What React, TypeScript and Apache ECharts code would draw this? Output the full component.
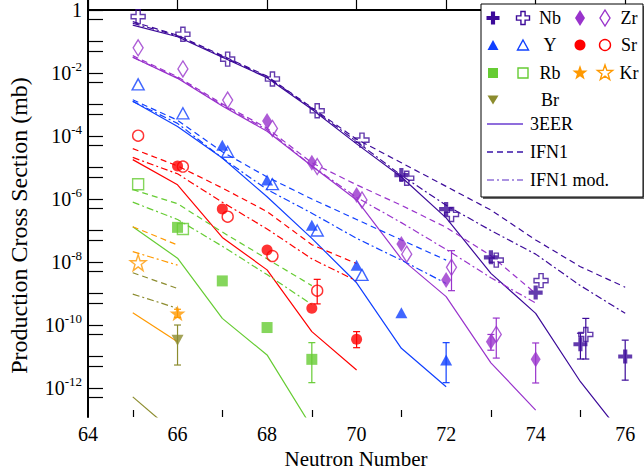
import React, { useEffect, useRef } from "react";
import * as echarts from "echarts";

// ---------- axes ----------
const X_MIN = 64;
const X_MAX = 76.42;
const Y_MIN = -12.92; // log10 of cross section (mb)
const Y_MAX = 0.317;
const xLabelTicks = [64, 66, 68, 70, 72, 74, 76];
const xMinorTicks = [65, 67, 69, 71, 73, 75];
const yLabelExponents = [0, -2, -4, -6, -8, -10, -12];
const yDecades = [0, -1, -2, -3, -4, -5, -6, -7, -8, -9, -10, -11, -12];

// ---------- colours ----------
const C_NB = "#3c0a99";
const C_ZR = "#9933cc";
const C_Y = "#1040ff";
const C_SR = "#ff0000";
const C_RB = "#66cc33";
const C_KR = "#ff9900";
const C_BR = "#8c8c2e";

// ---------- theory curves (log10 mb), N starting at 65 ----------
const nb3EER = [-0.48, -0.85, -1.5, -2.15, -3.15, -4.25, -5.3, -6.6, -8.36, -9.63, -11.8, -13.6];
const nbIFN1 = [-0.37, -0.8, -1.45, -2.1, -3.1, -4.1, -4.85, -5.6, -6.35, -7.3, -8.15, -8.8];
const nbIFN1mod = [-0.42, -0.82, -1.48, -2.12, -3.12, -4.18, -5.25, -6.2, -7.0, -7.75, -8.75, -9.63];

const zr3EER = [-1.5, -2.17, -3.05, -3.85, -4.95, -6.03, -7.9, -9.1, -11.2, -12.7];
const zrIFN1 = [-1.45, -2.12, -2.98, -3.75, -4.85, -5.55, -6.2, -6.9, -7.8, -9.0];
const zrIFN1mod = [-1.5, -2.15, -3.02, -3.8, -4.95, -5.95, -6.75, -7.6, -8.5, -9.3];

const y3EER = [-2.9, -3.7, -4.7, -5.93, -7.25, -8.66, -10.74, -11.96];
const yIFN1 = [-2.85, -3.5, -4.5, -5.3, -6.0, -6.65, -7.3, -7.94];
const yIFN1mod = [-2.9, -3.6, -4.7, -5.7, -6.45, -7.25, -7.94, -8.68];

const sr3EER = [-4.75, -5.55, -7.22, -8.25, -10.21, -11.43];
const srIFN1 = [-4.4, -4.95, -5.65, -6.4, -7.45, -8.05];
const srIFN1mod = [-4.68, -5.2, -6.1, -6.95, -7.9, -8.6];

const rb3EER = [-6.88, -7.88, -9.79, -10.95, -13.25];
const rbIFN1 = [-5.7, -6.15, -7.05, -7.9, -8.75];
const rbIFN1mod = [-6.1, -6.65, -7.5, -8.4, -9.35];

const kr3EER = [-9.61, -10.53];
const krIFN1 = [-6.88, -7.46];
const krIFN1mod = [-7.67, -8.1];

const br3EER = [-12.28, -13.5];
const brIFN1 = [-8.34, -8.84];
const brIFN1mod = [-9.02, -9.47];

// ---------- experimental points [N, log10 mb] ----------
const nbFilled = [[71, -5.24], [72, -6.32], [73, -7.85], [74, -8.97], [75, -10.61], [76, -11.0]];
const nbFilledErr = [[75, -10.26, -11.08], [76, -10.48, -11.75]];
const nbOpen = [[65, -0.21], [66, -0.77], [67, -1.56], [68, -2.19], [69, -3.2], [70, -4.13], [71, -5.34], [72, -6.49], [73, -7.94], [74, -8.59], [75, -10.3]];
const nbOpenErr = [[75, -9.79, -11.08]];

const zrFilled = [[68, -3.52], [69, -4.85], [70, -5.87], [71, -7.43], [72, -8.57], [73, -10.53], [74, -11.09]];
const zrFilledErr = [[73, -10.3, -10.8], [74, -10.57, -11.84]];
const zrOpen = [[65, -1.2], [66, -1.87], [67, -2.86], [68, -3.76], [69, -4.97], [70, -6.03], [71, -7.75], [72, -8.17], [73, -10.3]];
const zrOpenErr = [[72, -7.64, -8.91], [73, -9.78, -11.05]];

const yFilled = [[67, -4.29], [68, -5.4], [69, -6.83], [70, -8.1], [71, -9.61], [72, -11.11]];
const yFilledErr = [[72, -10.56, -11.83]];
const yOpen = [[65, -2.36], [66, -3.28], [67, -4.5], [68, -5.53], [69, -7.0], [70, -8.41]];

const srFilled = [[66, -4.95], [67, -6.32], [68, -7.62], [69, -9.47], [70, -10.45]];
const srFilledErr = [[70, -10.21, -10.72]];
const srOpen = [[65, -3.99], [66, -4.97], [67, -6.56], [68, -7.81], [69, -8.91]];
const srOpenErr = [[69, -8.55, -9.33]];

const rbFilled = [[66, -6.9], [67, -8.6], [68, -10.08], [69, -11.09]];
const rbFilledErr = [[69, -10.56, -11.83]];
const rbOpen = [[65, -5.53], [66, -6.95]];

const krFilled = [[66, -9.63]];
const krFilledErr = [[66, -9.5, -9.76]];
const krOpen = [[65, -8.02]];

const brFilled = [[66, -10.48]];
const brFilledErr = [[66, -10.0, -11.27]];

const OPEN_DX = 0.12;
const FONT = '"Liberation Serif", "Times New Roman", serif';
const DASH = [6, 4];
const DASHDOT = [7, 3, 2, 3];

const CROSS = "path://M7,0L13,0L13,7L20,7L20,13L13,13L13,20L7,20L7,13L0,13L0,7L7,7Z";
function starPoints(cx: number, cy: number, R: number, r: number) {
  const pts: number[][] = [];
  for (let i = 0; i < 10; i++) {
    const a = -Math.PI / 2 + (i * Math.PI) / 5;
    const rad = i % 2 === 0 ? R : r;
    pts.push([cx + rad * Math.cos(a), cy + rad * Math.sin(a)]);
  }
  return pts;
}
const STAR =
  "path://" +
  starPoints(10, 10, 10, 3.9)
    .map((p, i) => (i === 0 ? "M" : "L") + p[0].toFixed(2) + "," + p[1].toFixed(2))
    .join("") +
  "Z";

function lineS(name: string, color: string, vals: number[], dash: any) {
  return {
    type: "line",
    name,
    data: vals.map((v, i) => [65 + i, v]),
    symbol: "none",
    lineStyle: { color, width: 1.2, type: dash },
    itemStyle: { color },
    z: 2,
    silent: true,
    clip: true,
  };
}
function scatterS(name: string, pts: number[][], symbol: string, size: any, color: string, open: boolean, rotate = 0) {
  return {
    type: "scatter",
    name,
    data: pts.map((p) => [p[0] + (open ? OPEN_DX : 0), p[1]]),
    symbol,
    symbolSize: size,
    symbolRotate: rotate,
    itemStyle: open
      ? { color: "rgba(255,255,255,0)", borderColor: color, borderWidth: 1.4 }
      : { color },
    z: 4,
    silent: true,
  };
}
function errS(name: string, bars: number[][], color: string, open: boolean) {
  return {
    type: "custom",
    name,
    data: bars.map((b) => [b[0] + (open ? OPEN_DX : 0), b[1], b[2]]),
    encode: { x: 0, y: [1, 2] },
    z: 3,
    silent: true,
    renderItem: (params: any, api: any) => {
      const x = api.value(0);
      const p1 = api.coord([x, api.value(1)]);
      const p2 = api.coord([x, api.value(2)]);
      const w = 3.5;
      const st = { stroke: color, lineWidth: 1.2 };
      return {
        type: "group",
        children: [
          { type: "line", shape: { x1: p1[0], y1: p1[1], x2: p2[0], y2: p2[1] }, style: st },
          { type: "line", shape: { x1: p1[0] - w, y1: p1[1], x2: p1[0] + w, y2: p1[1] }, style: st },
          { type: "line", shape: { x1: p2[0] - w, y1: p2[1], x2: p2[0] + w, y2: p2[1] }, style: st },
        ],
      };
    },
  };
}

// ---------- legend drawing helpers ----------
function crossPts(cx: number, cy: number, s: number) {
  const a = s / 2;
  const b = s * 0.16;
  return [
    [cx - b, cy - a], [cx + b, cy - a], [cx + b, cy - b], [cx + a, cy - b], [cx + a, cy + b], [cx + b, cy + b],
    [cx + b, cy + a], [cx - b, cy + a], [cx - b, cy + b], [cx - a, cy + b], [cx - a, cy - b], [cx - b, cy - b],
  ];
}
function diamondPts(cx: number, cy: number, w: number, h: number) {
  return [[cx, cy - h / 2], [cx + w / 2, cy], [cx, cy + h / 2], [cx - w / 2, cy]];
}
function triPts(cx: number, cy: number, w: number, h: number, down = false) {
  return down
    ? [[cx - w / 2, cy - h / 2], [cx + w / 2, cy - h / 2], [cx, cy + h / 2]]
    : [[cx, cy - h / 2], [cx + w / 2, cy + h / 2], [cx - w / 2, cy + h / 2]];
}
function fillStyle(color: string) {
  return { fill: color };
}
function openStyle(color: string) {
  return { fill: "#fff", stroke: color, lineWidth: 1.4 };
}
function txt(x: number, y: number, text: string, align = "center") {
  return {
    type: "text",
    x,
    y,
    z: 20,
    style: { text, textAlign: align, textVerticalAlign: "middle", fontSize: 18, fontFamily: FONT, fill: "#000" },
  };
}

function legendGraphics() {
  const L = 481, T = 4, W = 162, H = 193;
  const c1 = 493, c2 = 523, t1 = 550, c3 = 580, c4 = 605, t2 = 629;
  const r = [18, 45, 73, 100, 124, 152, 180];
  const els: any[] = [
    { type: "rect", shape: { x: L + 2, y: T + 2, width: W, height: H }, style: { fill: "#666" }, z: 18 },
    { type: "rect", shape: { x: L, y: T, width: W, height: H }, style: { fill: "#fff", stroke: "#000", lineWidth: 1 }, z: 19 },
    { type: "polygon", shape: { points: crossPts(c1, r[0], 13) }, style: fillStyle(C_NB), z: 20 },
    { type: "polygon", shape: { points: crossPts(c2, r[0], 13) }, style: openStyle(C_NB), z: 20 },
    txt(t1, r[0], "Nb"),
    { type: "polygon", shape: { points: diamondPts(c3, r[0], 10, 16) }, style: fillStyle(C_ZR), z: 20 },
    { type: "polygon", shape: { points: diamondPts(c4, r[0], 10, 16) }, style: openStyle(C_ZR), z: 20 },
    txt(t2, r[0], "Zr"),
    { type: "polygon", shape: { points: triPts(c1, r[1], 11, 10) }, style: fillStyle(C_Y), z: 20 },
    { type: "polygon", shape: { points: triPts(c2, r[1], 11, 10) }, style: openStyle(C_Y), z: 20 },
    txt(t1, r[1], "Y"),
    { type: "circle", shape: { cx: c3, cy: r[1], r: 5.5 }, style: fillStyle(C_SR), z: 20 },
    { type: "circle", shape: { cx: c4, cy: r[1], r: 5.5 }, style: openStyle(C_SR), z: 20 },
    txt(t2, r[1], "Sr"),
    { type: "rect", shape: { x: c1 - 5, y: r[2] - 5, width: 10, height: 10 }, style: fillStyle(C_RB), z: 20 },
    { type: "rect", shape: { x: c2 - 5, y: r[2] - 5, width: 10, height: 10 }, style: openStyle(C_RB), z: 20 },
    txt(t1, r[2], "Rb"),
    { type: "polygon", shape: { points: starPoints(c3, r[2], 8, 3.2) }, style: fillStyle(C_KR), z: 20 },
    { type: "polygon", shape: { points: starPoints(c4, r[2], 8, 3.2) }, style: openStyle(C_KR), z: 20 },
    txt(t2, r[2], "Kr"),
    { type: "polygon", shape: { points: triPts(c1, r[3], 11, 9, true) }, style: fillStyle(C_BR), z: 20 },
    txt(t1, r[3], "Br"),
    { type: "line", shape: { x1: 487, y1: r[4], x2: 523, y2: r[4] }, style: { stroke: "#6a3cd0", lineWidth: 1.3 }, z: 20 },
    txt(530, r[4], "3EER", "left"),
    { type: "line", shape: { x1: 487, y1: r[5], x2: 523, y2: r[5] }, style: { stroke: "#3a14a8", lineWidth: 1.3, lineDash: DASH }, z: 20 },
    txt(530, r[5], "IFN1", "left"),
    { type: "line", shape: { x1: 487, y1: r[6], x2: 523, y2: r[6] }, style: { stroke: "#9070d8", lineWidth: 1.3, lineDash: DASHDOT }, z: 20 },
    txt(530, r[6], "IFN1 mod.", "left"),
  ];
  return els;
}

function buildOption() {
  const yTicks: number[] = [];
  yDecades.forEach((k) => {
    yTicks.push(k);
    yTicks.push(k - Math.log10(2));
  });
  const series: any[] = [
    lineS("Nb 3EER", C_NB, nb3EER, "solid"),
    lineS("Nb IFN1", C_NB, nbIFN1, DASH),
    lineS("Nb IFN1 mod.", C_NB, nbIFN1mod, DASHDOT),
    lineS("Zr 3EER", C_ZR, zr3EER, "solid"),
    lineS("Zr IFN1", C_ZR, zrIFN1, DASH),
    lineS("Zr IFN1 mod.", C_ZR, zrIFN1mod, DASHDOT),
    lineS("Y 3EER", C_Y, y3EER, "solid"),
    lineS("Y IFN1", C_Y, yIFN1, DASH),
    lineS("Y IFN1 mod.", C_Y, yIFN1mod, DASHDOT),
    lineS("Sr 3EER", C_SR, sr3EER, "solid"),
    lineS("Sr IFN1", C_SR, srIFN1, DASH),
    lineS("Sr IFN1 mod.", C_SR, srIFN1mod, DASHDOT),
    lineS("Rb 3EER", C_RB, rb3EER, "solid"),
    lineS("Rb IFN1", C_RB, rbIFN1, DASH),
    lineS("Rb IFN1 mod.", C_RB, rbIFN1mod, DASHDOT),
    lineS("Kr 3EER", C_KR, kr3EER, "solid"),
    lineS("Kr IFN1", C_KR, krIFN1, DASH),
    lineS("Kr IFN1 mod.", C_KR, krIFN1mod, DASHDOT),
    lineS("Br 3EER", C_BR, br3EER, "solid"),
    lineS("Br IFN1", C_BR, brIFN1, DASH),
    lineS("Br IFN1 mod.", C_BR, brIFN1mod, DASHDOT),

    errS("Nb filled err", nbFilledErr, C_NB, false),
    errS("Nb open err", nbOpenErr, C_NB, true),
    errS("Zr filled err", zrFilledErr, C_ZR, false),
    errS("Zr open err", zrOpenErr, C_ZR, true),
    errS("Y filled err", yFilledErr, C_Y, false),
    errS("Sr filled err", srFilledErr, C_SR, false),
    errS("Sr open err", srOpenErr, C_SR, true),
    errS("Rb filled err", rbFilledErr, C_RB, false),
    errS("Kr filled err", krFilledErr, C_KR, false),
    errS("Br filled err", brFilledErr, C_BR, false),

    scatterS("Nb open", nbOpen, CROSS, 14, C_NB, true),
    scatterS("Nb", nbFilled, CROSS, 14, C_NB, false),
    scatterS("Zr open", zrOpen, "diamond", [10, 16], C_ZR, true),
    scatterS("Zr", zrFilled, "diamond", [10, 16], C_ZR, false),
    scatterS("Y open", yOpen, "triangle", [12, 11], C_Y, true),
    scatterS("Y", yFilled, "triangle", [12, 11], C_Y, false),
    scatterS("Sr open", srOpen, "circle", 11, C_SR, true),
    scatterS("Sr", srFilled, "circle", 11, C_SR, false),
    scatterS("Rb open", rbOpen, "rect", 11, C_RB, true),
    scatterS("Rb", rbFilled, "rect", 11, C_RB, false),
    scatterS("Kr open", krOpen, STAR, 16, C_KR, true),
    scatterS("Kr", krFilled, STAR, 16, C_KR, false),
    scatterS("Br", brFilled, "triangle", [12, 11], C_BR, false, 180),
  ];

  return {
    animation: false,
    backgroundColor: "#fff",
    textStyle: { fontFamily: FONT },
    grid: { left: 88, right: 0, top: 0, bottom: 58, containLabel: false, outerBoundsMode: "none" },
    xAxis: [
      {
        type: "value",
        min: X_MIN,
        max: X_MAX,
        name: "Neutron Number",
        nameLocation: "middle",
        nameGap: 31,
        nameTextStyle: { fontFamily: FONT, fontSize: 21, color: "#000", padding: [0, 20, 0, 0] },
        axisLine: { lineStyle: { color: "#000", width: 2 } },
        axisTick: { inside: true, length: 13, customValues: xLabelTicks, lineStyle: { color: "#000", width: 1.2 } },
        axisLabel: { customValues: xLabelTicks, fontFamily: FONT, fontSize: 20, color: "#000", margin: 7 },
        splitLine: { show: false },
      },
      {
        type: "value",
        min: X_MIN,
        max: X_MAX,
        position: "bottom",
        axisLine: { show: false },
        axisTick: { inside: true, length: 7, customValues: xMinorTicks, lineStyle: { color: "#000", width: 1.2 } },
        axisLabel: { show: false },
        splitLine: { show: false },
      },
    ],
    yAxis: {
      type: "value",
      min: Y_MIN,
      max: Y_MAX,
      name: "Production Cross Section (mb)",
      nameLocation: "middle",
      nameGap: 57,
      nameTextStyle: { fontFamily: FONT, fontSize: 24, color: "#000", padding: [0, 34, 0, 0] },
      axisLine: { lineStyle: { color: "#000", width: 2 } },
      axisTick: { inside: true, length: 15, customValues: yTicks, lineStyle: { color: "#000", width: 1.2 } },
      axisLabel: {
        customValues: yLabelExponents,
        margin: 6,
        formatter: (v: number) => (Math.abs(v) < 1e-9 ? "{b|1}" : `{b|10}{s|${Math.round(v)}}`),
        rich: {
          b: { fontFamily: FONT, fontSize: 20, color: "#000", lineHeight: 26 },
          s: { fontFamily: FONT, fontSize: 13, color: "#000", verticalAlign: "top" },
        },
      },
      splitLine: { show: false },
    },
    series,
    graphic: legendGraphics(),
  };
}

export default function App() {
  const ref = useRef<HTMLDivElement>(null);
  useEffect(() => {
    if (!ref.current) return;
    const chart = echarts.init(ref.current, null, { renderer: "svg" });
    chart.setOption(buildOption() as any);
    return () => chart.dispose();
  }, []);
  return (
    <div
      ref={ref}
      style={{ position: "fixed", left: 0, top: 0, width: 644, height: 475, background: "#fff" }}
    />
  );
}
